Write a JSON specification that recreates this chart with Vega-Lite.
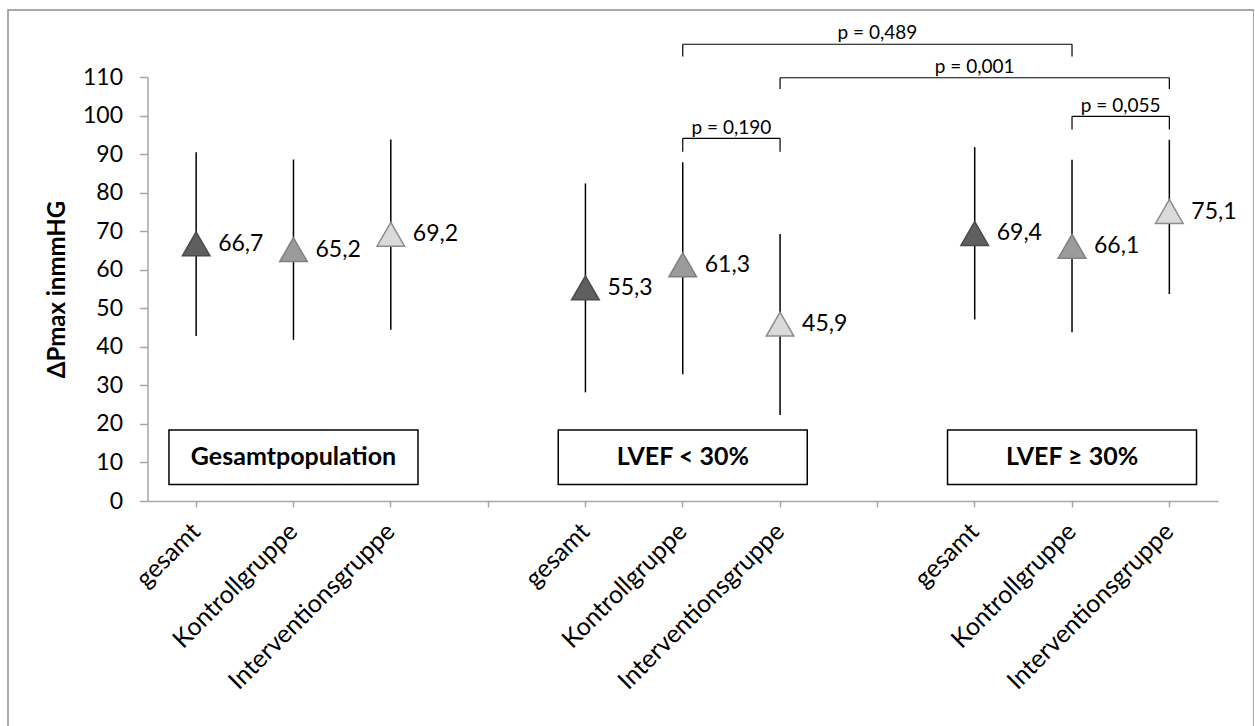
{
  "$schema": "https://vega.github.io/schema/vega-lite/v6.json",
  "width": 1246,
  "height": 725,
  "autosize": {"type": "none"},
  "padding": {"left": 8, "top": 10, "right": 0, "bottom": 0},
  "background": "white",
  "config": {
    "view": {"stroke": "#8f8f8f", "strokeWidth": 1.5},
    "font": "Lato",
    "locale": {"number": {"decimal": ",", "thousands": ".", "grouping": [3], "currency": ["", " €"]}},
    "axis": {"domainColor": "#a6a6a6", "tickColor": "#a6a6a6", "domainWidth": 1.5, "tickWidth": 1.5, "labelColor": "#000000", "labelFont": "Lato", "grid": false, "titleColor": "#000000", "labelOverlap": false, "labelLimit": 0}
  },
  "datasets": {
    "pts": [
      {"cat": "G|gesamt", "label": "gesamt", "mean": 66.7, "lo": 42.8, "hi": 90.5},
      {"cat": "G|Kontrollgruppe", "label": "Kontrollgruppe", "mean": 65.2, "lo": 41.8, "hi": 88.6},
      {"cat": "G|Interventionsgruppe", "label": "Interventionsgruppe", "mean": 69.2, "lo": 44.4, "hi": 93.8},
      {"cat": "L|gesamt", "label": "gesamt", "mean": 55.3, "lo": 28.2, "hi": 82.4},
      {"cat": "L|Kontrollgruppe", "label": "Kontrollgruppe", "mean": 61.3, "lo": 32.9, "hi": 87.9},
      {"cat": "L|Interventionsgruppe", "label": "Interventionsgruppe", "mean": 45.9, "lo": 22.3, "hi": 69.3},
      {"cat": "H|gesamt", "label": "gesamt", "mean": 69.4, "lo": 47.1, "hi": 91.8},
      {"cat": "H|Kontrollgruppe", "label": "Kontrollgruppe", "mean": 66.1, "lo": 43.8, "hi": 88.5},
      {"cat": "H|Interventionsgruppe", "label": "Interventionsgruppe", "mean": 75.1, "lo": 53.7, "hi": 93.7}
    ],
    "boxes": [
      {"cat": "G|Kontrollgruppe", "name": "Gesamtpopulation", "lo": 4.3, "hi": 18.4, "mid": 11.3},
      {"cat": "L|Kontrollgruppe", "name": "LVEF < 30%", "lo": 4.3, "hi": 18.4, "mid": 11.3},
      {"cat": "H|Kontrollgruppe", "name": "LVEF ≥ 30%", "lo": 4.3, "hi": 18.4, "mid": 11.3}
    ],
    "brackets": [
      {"p": "p = 0,489", "from": "L|Kontrollgruppe", "to": "H|Kontrollgruppe", "top": 118.5, "endL": 115.3, "endR": 115.3, "tcat": "gap2", "tpos": "center"},
      {"p": "p = 0,001", "from": "L|Interventionsgruppe", "to": "H|Interventionsgruppe", "top": 109.8, "endL": 106.9, "endR": 106.9, "tcat": "H|gesamt", "tpos": "center"},
      {"p": "p = 0,055", "from": "H|Kontrollgruppe", "to": "H|Interventionsgruppe", "top": 99.8, "endL": 96.4, "endR": 96.4, "tcat": "H|Kontrollgruppe", "tpos": "edge"},
      {"p": "p  = 0,190", "from": "L|Kontrollgruppe", "to": "L|Interventionsgruppe", "top": 94.1, "endL": 90.6, "endR": 90.6, "tcat": "L|Kontrollgruppe", "tpos": "edge"}
    ]
  },
  "layer": [
    {
      "data": {"name": "boxes"},
      "mark": {"type": "bar", "width": 249, "fill": "white", "stroke": "black", "strokeWidth": 1.5},
      "encoding": {
        "x": {"field": "cat", "type": "nominal", "sort": null,
          "scale": {"type": "band", "paddingInner": 0, "paddingOuter": 0, "range": [139.5, 1210],
            "domain": ["G|gesamt", "G|Kontrollgruppe", "G|Interventionsgruppe", "gap1", "L|gesamt", "L|Kontrollgruppe", "L|Interventionsgruppe", "gap2", "H|gesamt", "H|Kontrollgruppe", "H|Interventionsgruppe"]},
          "axis": {"title": null, "offset": -234, "labelAngle": -45, "labelAlign": "right", "labelBaseline": "middle", "labelFontSize": 25, "tickSize": 6, "labelPadding": 20,
            "labelExpr": "indexof(datum.value, '|') > 0 ? split(datum.value, '|')[1] : ''"}},
        "y": {"field": "lo", "type": "quantitative",
          "scale": {"domain": [0, 110], "nice": false, "zero": true, "range": [491, 67]},
          "axis": {"offset": -139.5, "values": [0, 10, 20, 30, 40, 50, 60, 70, 80, 90, 100, 110], "labelFontSize": 23, "tickSize": 8, "labelPadding": 17,
            "title": "ΔPmax inmmHG", "titleFontWeight": "bold", "titleFontSize": 24, "titlePadding": 13}},
        "y2": {"field": "hi"}
      }
    },
    {
      "data": {"name": "boxes"},
      "mark": {"type": "text", "fontWeight": "bold", "fontSize": 25, "align": "center", "baseline": "middle", "color": "black"},
      "encoding": {
        "x": {"field": "cat", "type": "nominal"},
        "y": {"field": "mid", "type": "quantitative"},
        "text": {"field": "name"}
      }
    },
    {
      "data": {"name": "pts"},
      "mark": {"type": "rule", "color": "black", "strokeWidth": 1.5},
      "encoding": {
        "x": {"field": "cat", "type": "nominal"},
        "y": {"field": "lo", "type": "quantitative"},
        "y2": {"field": "hi"}
      }
    },
    {
      "data": {"name": "pts"},
      "mark": {"type": "point", "shape": "triangle-up", "filled": true, "size": 760, "opacity": 1, "strokeWidth": 1.5},
      "encoding": {
        "x": {"field": "cat", "type": "nominal"},
        "y": {"field": "mean", "type": "quantitative"},
        "fill": {"field": "label", "type": "nominal", "legend": null,
          "scale": {"domain": ["gesamt", "Kontrollgruppe", "Interventionsgruppe"], "range": ["#5f5f5f", "#9b9b9b", "#dadada"]}},
        "stroke": {"field": "label", "type": "nominal", "legend": null,
          "scale": {"domain": ["gesamt", "Kontrollgruppe", "Interventionsgruppe"], "range": ["#4a4a4a", "#808080", "#8c8c8c"]}}
      }
    },
    {
      "data": {"name": "pts"},
      "mark": {"type": "text", "align": "left", "baseline": "middle", "dx": 22, "fontSize": 23, "color": "black"},
      "encoding": {
        "x": {"field": "cat", "type": "nominal"},
        "y": {"field": "mean", "type": "quantitative"},
        "text": {"field": "mean", "type": "quantitative", "format": ".1f"}
      }
    },
    {
      "data": {"name": "brackets"},
      "mark": {"type": "rule", "color": "black", "strokeWidth": 1.2},
      "encoding": {
        "x": {"field": "from", "type": "nominal"},
        "x2": {"field": "to"},
        "y": {"field": "top", "type": "quantitative"}
      }
    },
    {
      "data": {"name": "brackets"},
      "mark": {"type": "rule", "color": "black", "strokeWidth": 1.2},
      "encoding": {
        "x": {"field": "from", "type": "nominal"},
        "y": {"field": "endL", "type": "quantitative"},
        "y2": {"field": "top"}
      }
    },
    {
      "data": {"name": "brackets"},
      "mark": {"type": "rule", "color": "black", "strokeWidth": 1.2},
      "encoding": {
        "x": {"field": "to", "type": "nominal"},
        "y": {"field": "endR", "type": "quantitative"},
        "y2": {"field": "top"}
      }
    },
    {
      "data": {"name": "brackets"},
      "transform": [{"filter": "datum.tpos == 'center'"}],
      "mark": {"type": "text", "align": "center", "baseline": "middle", "dy": -11, "fontSize": 19, "color": "black"},
      "encoding": {
        "x": {"field": "tcat", "type": "nominal"},
        "y": {"field": "top", "type": "quantitative"},
        "text": {"field": "p"}
      }
    },
    {
      "data": {"name": "brackets"},
      "transform": [{"filter": "datum.tpos == 'edge'"}],
      "mark": {"type": "text", "align": "center", "baseline": "middle", "dy": -10, "fontSize": 19, "color": "black"},
      "encoding": {
        "x": {"field": "tcat", "type": "nominal", "bandPosition": 1},
        "y": {"field": "top", "type": "quantitative"},
        "text": {"field": "p"}
      }
    }
  ]
}
